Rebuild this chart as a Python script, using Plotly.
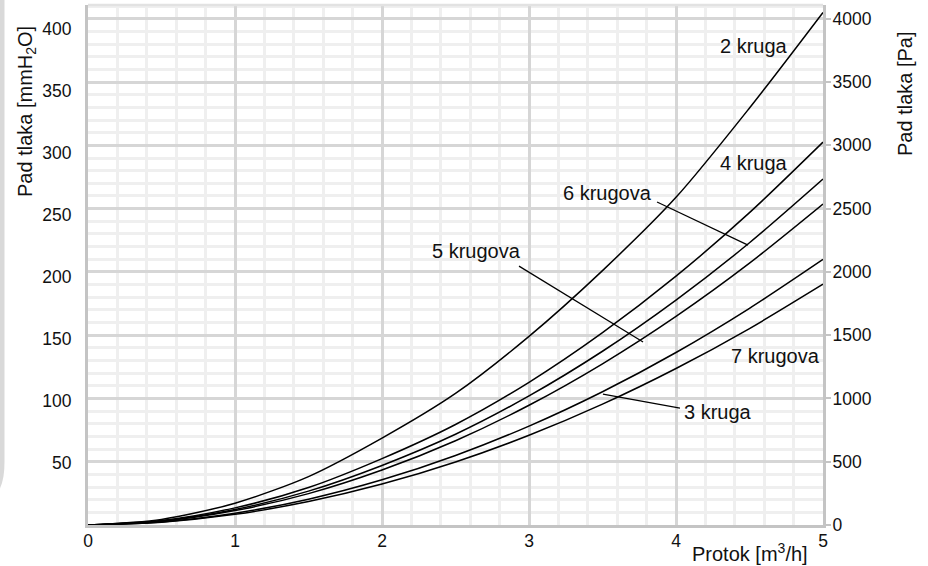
import plotly.graph_objects as go

# ---- data ----
flow = [0, 0.5, 1, 1.5, 2, 2.5, 3, 3.5, 4, 4.5, 5]  # m3/h

series_names = ["2 kruga", "4 kruga", "6 krugova", "5 krugova", "3 kruga", "7 krugova"]
kruga_2 = [0, 4.5, 17.6, 39.0, 70.0, 106.0, 152.0, 205.0, 264.0, 336.0, 413.0]
kruga_4 = [0, 3.6, 13.8, 30.2, 53.5, 81.0, 115.0, 155.0, 200.5, 251.7, 308.5]
krugova_6 = [0, 3.3, 12.5, 27.3, 48.0, 73.1, 104.0, 140.0, 181.2, 227.4, 278.7]
krugova_5 = [0, 3.0, 11.6, 25.3, 44.3, 67.9, 96.5, 129.9, 168.1, 211.0, 258.6]
kruga_3 = [0, 2.5, 9.5, 20.8, 36.4, 56.0, 79.7, 107.4, 139.0, 174.6, 214.0]
krugova_7 = [0, 2.3, 8.6, 18.9, 33.0, 50.8, 72.3, 97.4, 126.1, 158.3, 194.0]
series_values = [kruga_2, kruga_4, krugova_6, krugova_5, kruga_3, krugova_7]

x_ticks = [0, 1, 2, 3, 4, 5]
left_ticks = [50, 100, 150, 200, 250, 300, 350, 400]
right_ticks = [0, 500, 1000, 1500, 2000, 2500, 3000, 3500, 4000]

PA_PER_MM = 9.80665
Y_MAX_MM = 419.0

# label positions (x, y in mmH2O) and leader lines (x0, y0, x1, y1)
label_pos = {
    "2 kruga": (4.531, 385.8),
    "4 kruga": (4.531, 291.6),
    "6 krugova": (3.537, 267.4),
    "5 krugova": (2.646, 220.7),
    "7 krugova": (4.680, 136.1),
    "3 kruga": (4.286, 91.0),
}
leaders = [
    (3.871, 260.2, 4.490, 225.5),
    (2.932, 208.6, 3.776, 147.4),
    (4.027, 94.2, 3.503, 105.5),
]

FONT = "Liberation Sans, Arial, sans-serif"
MAJOR = "#d6d6d6"
MINOR = "#efefef"
AXIS = "#c4c4c4"
TXT = 20
TICK = 17.5


def px(xp):
    return (xp - 88) / 735


def py(yp):
    return (525 - yp) / 520


fig = go.Figure()

# invisible trace to activate the Pa axis (grid + ticks)
fig.add_trace(go.Scatter(x=[0, 5], y=[0, Y_MAX_MM * PA_PER_MM], yaxis="y2",
                         mode="lines", line=dict(width=0), opacity=0,
                         hoverinfo="skip", showlegend=False))

for name, vals in zip(series_names, series_values):
    fig.add_trace(go.Scatter(x=flow, y=vals, mode="lines", name=name,
                             line=dict(color="black", width=1.5, shape="spline", smoothing=0.8),
                             showlegend=False))

annotations = []
for name, (lx, ly) in label_pos.items():
    annotations.append(dict(x=lx, y=ly, xref="x", yref="y", text=name, showarrow=False,
                            xanchor="center", yanchor="middle",
                            font=dict(size=TXT, color="#111", family=FONT)))

annotations += [
    dict(xref="paper", yref="paper", x=px(750), y=py(552),
         xanchor="center", yanchor="middle",
         text="Protok [m<sup>3</sup>/h]", showarrow=False,
         font=dict(size=TXT, color="#111", family=FONT)),
    dict(xref="paper", yref="paper", x=px(26), y=py(112),
         xanchor="center", yanchor="middle",
         text="Pad tlaka [mmH<sub>2</sub>O]", textangle=-90, showarrow=False,
         font=dict(size=TXT, color="#111", family=FONT)),
    dict(xref="paper", yref="paper", x=px(905), y=py(94),
         xanchor="center", yanchor="middle",
         text="Pad tlaka [Pa]", textangle=-90, showarrow=False,
         font=dict(size=TXT, color="#111", family=FONT)),
]

shapes = []
for (x0, y0, x1, y1) in leaders:
    shapes.append(dict(type="line", xref="x", yref="y", x0=x0, y0=y0, x1=x1, y1=y1,
                       line=dict(color="black", width=1.2)))
# top border
shapes.append(dict(type="line", xref="paper", yref="paper", x0=0, x1=1, y0=1, y1=1,
                   line=dict(color="#e2e2e2", width=2.5)))
# left grey sidebar with rounded bottom
path = (f"M {px(-2)},{py(-5)} L {px(4.5)},{py(-5)} L {px(4.5)},{py(462)} "
        f"Q {px(4.5)},{py(482)} {px(-2)},{py(492)} Z")
shapes.append(dict(type="path", xref="paper", yref="paper", path=path,
                   fillcolor="#d9d9d9", line=dict(width=0)))

fig.update_layout(
    width=928, height=566,
    margin=dict(l=88, r=105, t=5, b=41, autoexpand=False),
    paper_bgcolor="white", plot_bgcolor="white",
    font=dict(family=FONT, size=TICK, color="#111"),
    showlegend=False,
    annotations=annotations,
    shapes=shapes,
    xaxis=dict(range=[0, 5], tickvals=x_ticks, showgrid=True, gridcolor=MAJOR, gridwidth=2.5,
               minor=dict(dtick=0.2, showgrid=True, gridcolor=MINOR, gridwidth=2.5),
               showline=True, linecolor=AXIS, linewidth=3, zeroline=False, ticks="",
               ticklabelstandoff=-2,
               automargin=False, tickfont=dict(size=TICK, color="#111")),
    yaxis=dict(range=[0, Y_MAX_MM], tickvals=left_ticks, showgrid=False, zeroline=False,
               showline=True, linecolor=AXIS, linewidth=3, ticks="", ticklabelstandoff=10,
               automargin=False, tickfont=dict(size=TICK, color="#111")),
    yaxis2=dict(range=[0, Y_MAX_MM * PA_PER_MM], overlaying="y", side="right",
                tickvals=right_ticks, showgrid=True, gridcolor=MAJOR, gridwidth=2.5,
                minor=dict(dtick=100, tick0=0, showgrid=True, gridcolor=MINOR, gridwidth=2.5),
                showline=True, linecolor=AXIS, linewidth=3, zeroline=False,
                ticks="outside", ticklen=5, tickwidth=2, tickcolor=AXIS,
                ticklabelstandoff=-2,
                automargin=False, tickfont=dict(size=TICK, color="#111")),
)

fig.write_html("out.html", config={"displayModeBar": False},
               post_script="document.body.style.margin='0px';document.body.style.overflow='hidden';")
